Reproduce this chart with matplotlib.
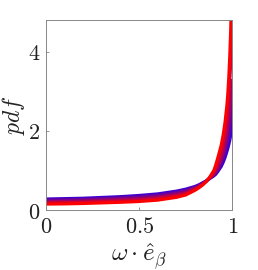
import matplotlib
matplotlib.use("Agg")
import matplotlib.pyplot as plt
import numpy as np

x = [0, 0.1, 0.2, 0.3, 0.4, 0.5, 0.6, 0.7, 0.75, 0.8, 0.82, 0.84, 0.86, 0.88,
     0.9, 0.91, 0.92, 0.93, 0.94, 0.95, 0.96, 0.97, 0.975, 0.98, 0.985, 0.99, 0.995, 1.0]

pdf_1 = [0.28, 0.29, 0.30, 0.32, 0.34, 0.37, 0.41, 0.48, 0.53, 0.60, 0.64, 0.69, 0.74, 0.80,
         0.86, 0.90, 0.96, 1.03, 1.10, 1.20, 1.32, 1.47, 1.55, 1.64, 1.74, 1.87, 2.05, 2.30]
pdf_2 = [0.245, 0.255, 0.265, 0.285, 0.305, 0.33, 0.37, 0.44, 0.49, 0.575, 0.62, 0.675, 0.735, 0.805,
         0.88, 0.94, 1.01, 1.10, 1.20, 1.33, 1.49, 1.70, 1.82, 1.97, 2.13, 2.32, 2.53, 2.78]
pdf_3 = [0.21, 0.22, 0.23, 0.25, 0.27, 0.29, 0.33, 0.40, 0.45, 0.55, 0.60, 0.66, 0.73, 0.81,
         0.90, 0.98, 1.07, 1.18, 1.30, 1.46, 1.66, 1.93, 2.10, 2.30, 2.52, 2.78, 3.02, 3.27]
pdf_4 = [0.18, 0.19, 0.20, 0.215, 0.23, 0.25, 0.29, 0.36, 0.415, 0.525, 0.58, 0.645, 0.725, 0.83,
         0.95, 1.06, 1.18, 1.32, 1.47, 1.68, 1.94, 2.29, 2.52, 2.82, 3.18, 3.64, 4.20, 4.90]
pdf_5 = [0.15, 0.155, 0.165, 0.18, 0.195, 0.215, 0.25, 0.32, 0.38, 0.50, 0.56, 0.63, 0.72, 0.85,
         1.00, 1.14, 1.30, 1.47, 1.65, 1.90, 2.22, 2.65, 2.95, 3.35, 3.85, 4.50, 5.40, 6.50]

series = [pdf_1, pdf_2, pdf_3, pdf_4, pdf_5]

c_start = np.array([0.25, 0.0, 0.80])
c_end = np.array([1.0, 0.0, 0.0])

plt.rcParams['mathtext.fontset'] = 'cm'
plt.rcParams['font.family'] = 'serif'
plt.rcParams['font.serif'] = ['DejaVu Serif']

fig = plt.figure(figsize=(2.58, 2.70), dpi=100)
ax = fig.add_axes([0.178, 0.222, 0.723, 0.704])

n = len(series)
for i, s in enumerate(series):
    t = i / (n - 1)
    col = c_start * (1 - t) + c_end * t
    ax.plot(x, s, color=col, lw=2.2, solid_joinstyle='round')

ax.set_xlim(0, 1)
ax.set_ylim(0, 4.8)
ax.set_xticks([0, 0.5, 1])
ax.set_xticklabels([r'$0$', r'$0.5$', r'$1$'])
ax.set_yticks([0, 2, 4])
ax.set_yticklabels([r'$0$', r'$2$', r'$4$'])
ax.tick_params(direction='in', length=2.5, width=0.6, color='#888888', labelsize=16, labelcolor='#222222', pad=4)
for sp in ax.spines.values():
    sp.set_color('#888888')
    sp.set_linewidth(0.7)

ax.set_xlabel(r'$\omega\cdot\hat{e}_\beta$', fontsize=18, color='#222222', labelpad=3)
ax.set_ylabel(r'$pdf$', fontsize=17, color='#222222', labelpad=1)

fig.savefig('out.png', dpi=100)
